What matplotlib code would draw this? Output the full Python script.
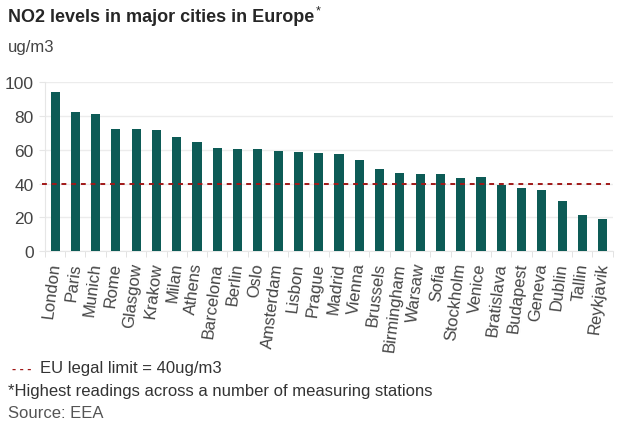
import matplotlib
matplotlib.use("Agg")
import matplotlib.pyplot as plt
import numpy as np

cities = ["London", "Paris", "Munich", "Rome", "Glasgow", "Krakow", "Milan", "Athens",
          "Barcelona", "Berlin", "Oslo", "Amsterdam", "Lisbon", "Prague", "Madrid",
          "Vienna", "Brussels", "Birmingham", "Warsaw", "Sofia", "Stockholm", "Venice",
          "Bratislava", "Budapest", "Geneva", "Dublin", "Tallin", "Reykjavik"]
no2 = [94, 82.5, 81, 72.5, 72, 71.5, 67.5, 64.5, 61, 60.5, 60.5, 59.5, 58.5, 58,
       57.5, 54, 48.5, 46, 45.5, 45.5, 43, 44, 39, 37.5, 36, 29.5, 21.5, 19]
limit = 40
yticks = [0, 20, 40, 60, 80, 100]

plt.rcParams['font.family'] = ['Liberation Sans', 'DejaVu Sans']

fig = plt.figure(figsize=(6.24, 4.31), dpi=100)
ax = fig.add_axes([0.072, 0.415, 0.910, 0.392])

x = np.arange(len(cities))
ax.bar(x, no2, width=0.45, color="#0d5b56", zorder=3)
ax.axhline(limit, color="#a01818", linestyle=(0, (2.5, 2.5)), linewidth=1.4,
           xmin=-0.006, xmax=0.995, zorder=4, clip_on=False)

ax.set_xlim(-0.5, len(cities) - 0.5)
ax.set_ylim(0, 100)
ax.set_yticks(yticks)
ax.grid(axis='y', color="#ececec", linewidth=1, zorder=0)
ax.tick_params(axis='y', length=4, color="#e6e6e6", labelsize=12.5, labelcolor="#444444", pad=4)

ax.set_xticks(x)
ax.set_xticklabels(cities, rotation=83, ha='right', va='center', rotation_mode='anchor',
                   fontsize=12, color="#444444")
ax.tick_params(axis='x', length=0, pad=8)
ax.set_xticks(np.arange(-0.5, len(cities), 1), minor=True)
ax.tick_params(axis='x', which='minor', length=4, color="#dddddd")

for s in ['top', 'right']:
    ax.spines[s].set_visible(False)
ax.spines['left'].set_color("#e6e6e6")
ax.spines['bottom'].set_color("#e6e6e6")

title = fig.text(0.013, 0.948, "NO2 levels in major cities in Europe", fontsize=13, fontweight='bold',
                 color="#262626", va='baseline')
fig.canvas.draw()
bb = title.get_window_extent(renderer=fig.canvas.get_renderer())
fig.text(bb.x1 / fig.bbox.width + 0.002, 0.966, "*", fontsize=9, color="#262626", va='baseline')
fig.text(0.013, 0.89, "ug/m3", fontsize=12, color="#444444", va='center')

fig.text(0.019, 0.142, "- - -", fontsize=9, color="#a01818", va='center', fontweight='bold')
fig.text(0.064, 0.144, "EU legal limit = 40ug/m3", fontsize=12, color="#333333", va='center')
fig.text(0.013, 0.091, "*Highest readings across a number of measuring stations", fontsize=12,
         color="#333333", va='center')
fig.text(0.013, 0.041, "Source: EEA", fontsize=12, color="#555555", va='center')

fig.savefig("out.png", dpi=100)
